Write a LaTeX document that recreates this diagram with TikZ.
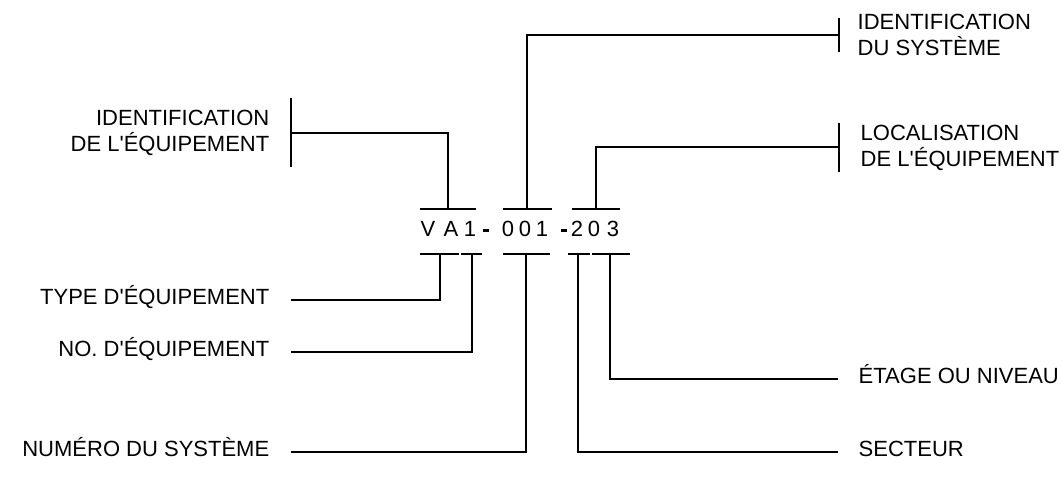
\documentclass[tikz,border=0pt]{standalone}
\usepackage{fontspec}
\setmainfont{Liberation Sans}[Ligatures=TeXOff]
\usetikzlibrary{positioning}
\newcommand{\labelfont}{\fontsize{16.5pt}{19pt}\selectfont}
\newcommand{\codedash}{\rule[3.6pt]{4.6pt}{2.6pt}}
\begin{document}
\begin{tikzpicture}[x=0.75pt,y=-0.75pt,line width=1.1pt,
	code char/.style={font=\labelfont,anchor=base,yshift=-0.358em,inner sep=0pt},
	label left/.style={font=\labelfont,anchor=base east,yshift=-0.358em,inner sep=0pt},
	label right/.style={font=\labelfont,anchor=base west,yshift=-0.358em,inner sep=0pt},
	label block/.style={font=\labelfont,inner sep=0pt}]
	\useasboundingbox (0,0) rectangle (1062,480);
	% code
	\foreach \ch/\x [count=\i] in {V/428,A/451,1/470,\codedash/486,0/508,0/525,1/542,\codedash/564,2/577,0/594,3/613}
		\node[code char] (c\i) at (\x,232) {\ch};
	\foreach \a/\b in {420/476,503/552,572/620}
		\draw (\a,209) -- (\b,209);
	\foreach \a/\b in {420/459,461/482,503/550,568/590,592/630}
		\draw (\a,254) -- (\b,254);
	\coordinate (t1) at (448,209);
	\coordinate (t2) at (527,209);
	\coordinate (t3) at (596,209);
	\coordinate (s1) at (440,254);
	\coordinate (s2) at (472,254);
	\coordinate (s3) at (526,254);
	\coordinate (s4) at (578,254);
	\coordinate (s5) at (610,254);
	
	% labels above
	\coordinate (equip tick) at (291,133);
	\coordinate (sys tick) at (839,35);
	\coordinate (loc tick) at (839,147);
	\node[label block,align=right,anchor=east] (equip id) at (270,133) {IDENTIFICATION\\DE L'ÉQUIPEMENT};
	\node[label block,align=left,anchor=west] (sys id) at (857,35) {IDENTIFICATION\\DU SYSTÈME};
	\node[label block,align=left,anchor=west] (loc) at (860,148) {LOCALISATION\\DE L'ÉQUIPEMENT};
	\draw (291,98) -- (291,167);
	\draw (839,18) -- (839,52);
	\draw (839,123) -- (839,172);
	\draw (t1) |- (equip tick);
	\draw (t2) |- (sys tick);
	\draw (t3) |- (loc tick);
	
	% labels below
	\coordinate (type in) at (291,300);
	\coordinate (no in) at (291,352);
	\coordinate (num in) at (291,452);
	\coordinate (etage in) at (838,379);
	\coordinate (sect in) at (838,452);
	\node[label left] (type) at (270,300) {TYPE D'ÉQUIPEMENT};
	\node[label left] (no) at (270,352) {NO. D'ÉQUIPEMENT};
	\node[label left] (num) at (270,452) {NUMÉRO DU SYSTÈME};
	\node[label right] (etage) at (858,379) {ÉTAGE OU NIVEAU};
	\node[label right] (sect) at (858,452) {SECTEUR};
	\draw (type in) -| (s1);
	\draw (no in) -| (s2);
	\draw (num in) -| (s3);
	\draw (etage in) -| (s5);
	\draw (sect in) -| (s4);
\end{tikzpicture}
\end{document}
